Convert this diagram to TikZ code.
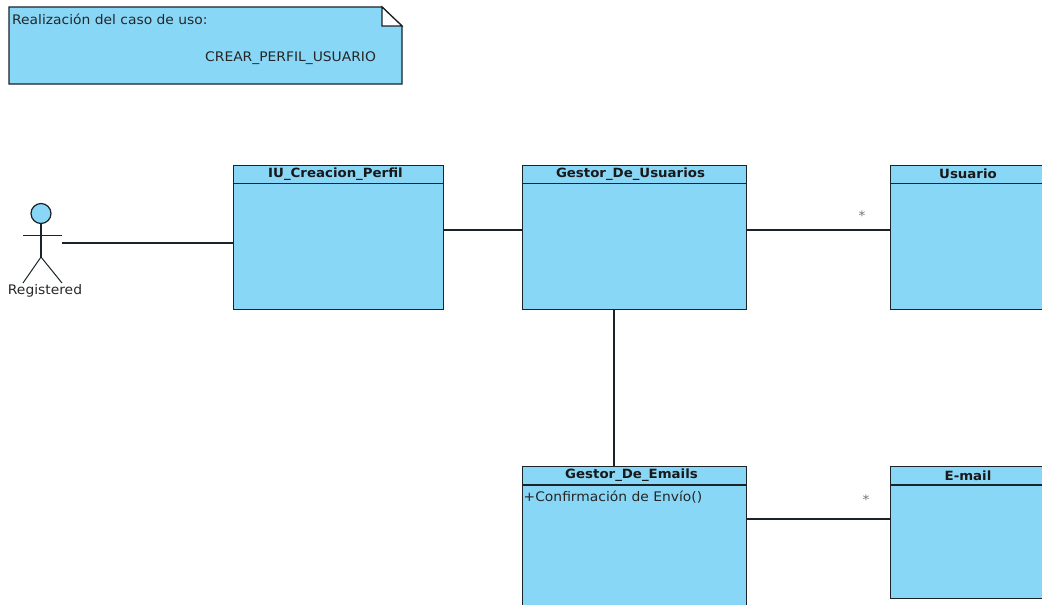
\documentclass[tikz,border=0pt]{standalone}
\usepackage{fontspec}
\setmainfont[FakeStretch=1.05]{DejaVu Sans}
\usetikzlibrary{calc}
\definecolor{umlblue}{RGB}{137,215,247}
\definecolor{umlline}{RGB}{25,35,40}
\tikzset{
  x=1pt,y=-1pt,
  classbox/.style={draw=umlline,fill=umlblue,line width=1.4pt,inner sep=0pt,anchor=north west},
  assoc/.style={draw=umlline,line width=1.2pt},
  label/.style={inner sep=0pt,font=\fontsize{13.2}{15}\selectfont,text=black!85},
  title/.style={inner sep=0pt,font=\fontsize{12.7}{15}\selectfont\bfseries,text=black!90},
  mult/.style={inner sep=0pt,font=\fontsize{13}{14}\selectfont,text=black!55},
}
\newcommand{\umlclass}[7]{% name, x, y, w, h, title, titlecenter x
  \node[classbox,minimum width=#4pt,minimum height=#5pt] (#1) at (#2,#3) {};
  \draw[umlline,line width=1.2pt] (#1.north west) ++(0,19) -- ++(#4,0);
  \node[title] (#1t) at (#7,{#3+9.5}) {#6};
}
\begin{document}
\begin{tikzpicture}
\useasboundingbox (0,0) rectangle (1042,605);
\clip (0,0) rectangle (1042,605);
% note
\draw[classbox] (9,7) -- (382,7) -- (402,26) -- (402,84) -- (9,84) -- cycle;
\draw[umlline,line width=1.2pt,fill=white] (382,7) -- (402,26) -- (382,26) -- cycle;
\node[label,anchor=base west] (notea) at (12,24) {Realización del caso de uso:};
\node[label,anchor=base west] (noteb) at (205,61) {CREAR\_PERFIL\_USUARIO};
% classes
\umlclass{iu}{232.5}{164.5}{210.5}{144.5}{IU\_Creacion\_Perfil}{335.5}
\umlclass{gu}{522}{164.5}{224}{144.5}{Gestor\_De\_Usuarios}{630.5}
\umlclass{us}{890}{164.5}{170}{144.5}{Usuario}{968}
\umlclass{ge}{522}{466}{224}{160}{Gestor\_De\_Emails}{631.5}
\umlclass{em}{890}{466}{170}{132}{E-mail}{968}
\node[label,anchor=base west] (op) at (523.5,501) {+Confirmación de Envío()};
% actor
\node[circle,draw=umlline,fill=umlblue,line width=1.2pt,minimum size=20pt,inner sep=0pt] (head) at (41,213.5) {};
\coordinate (hip) at (41,257);
\coordinate (arml) at (23,235);
\coordinate (armr) at (62,235);
\coordinate (legl) at (23,283);
\coordinate (legr) at (62,283);
\draw[assoc] (head.south) -- (hip);
\draw[assoc,line width=1pt] (arml) -- (armr);
\draw[assoc,line width=1pt] (legl) -- (hip) -- (legr);
\node[label] (actor) at (45,291) {Registered};
% connectors
\coordinate (actorend) at (62,243);
\coordinate (la) at (0,230);
\coordinate (lb) at (0,519);
\coordinate (vt) at (614,0);
\draw[assoc] (actorend) -- (actorend -| iu.west);
\draw[assoc] (iu.east |- la) -- (gu.west |- la);
\draw[assoc] (gu.east |- la) -- (us.west |- la);
\draw[assoc] (vt |- gu.south) -- (vt |- ge.north);
\draw[assoc] (ge.east |- lb) -- (em.west |- lb);
\node[mult] (m1) at (862,216) {*};
\node[mult] (m2) at (866,500) {*};
\end{tikzpicture}
\end{document}
